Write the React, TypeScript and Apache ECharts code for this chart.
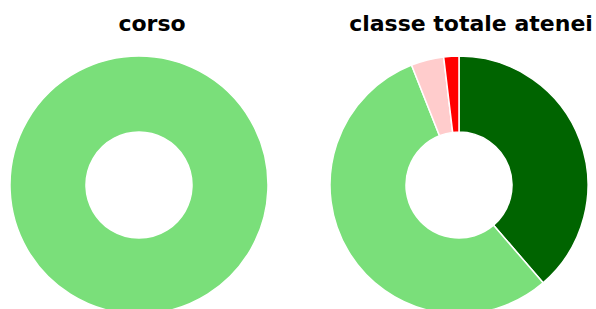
import React, { useEffect, useRef } from "react";
import * as echarts from "echarts";

const categories = ["decisamente sì", "più sì che no", "più no che sì", "decisamente no"];
const colors = ["#006400", "#7ADF7A", "#FFCCCC", "#FF0000"];
const corsoValues = [0, 100, 0, 0];
const ateneiValues = [38.7, 55.3, 4.1, 1.9];
const titles = ["corso", "classe totale atenei"];

export default function App() {
  const ref = useRef<HTMLDivElement>(null);
  useEffect(() => {
    document.body.style.margin = "0";
    const chart = echarts.init(ref.current!, null, { renderer: "svg" });
    const mk = (vals: number[]) =>
      categories.map((c, i) => ({ name: c, value: vals[i], itemStyle: { color: colors[i] } })).filter((d) => d.value > 0);
    const ts = { fontFamily: "DejaVu Sans", fontSize: 22, fontWeight: "bold", color: "#000" };
    chart.setOption({
      animation: false,
      title: [
        { text: titles[0], left: 147, top: 7, textAlign: "center", textStyle: ts },
        { text: titles[1], left: 466, top: 7, textAlign: "center", textStyle: ts },
      ],
      series: [
        {
          type: "pie",
          center: [139, 185],
          radius: [53, 129],
          startAngle: 90,
          clockwise: true,
          label: { show: false },
          labelLine: { show: false },
          emphasis: { disabled: true },
          itemStyle: { borderColor: "#fff", borderWidth: 1.5 },
          data: mk(corsoValues),
        },
        {
          type: "pie",
          center: [459, 185],
          radius: [53, 129],
          startAngle: 90,
          clockwise: true,
          label: { show: false },
          labelLine: { show: false },
          emphasis: { disabled: true },
          itemStyle: { borderColor: "#fff", borderWidth: 1.5 },
          data: mk(ateneiValues),
        },
      ],
    });
    return () => chart.dispose();
  }, []);
  return <div ref={ref} style={{ width: 596, height: 309 }} />;
}
